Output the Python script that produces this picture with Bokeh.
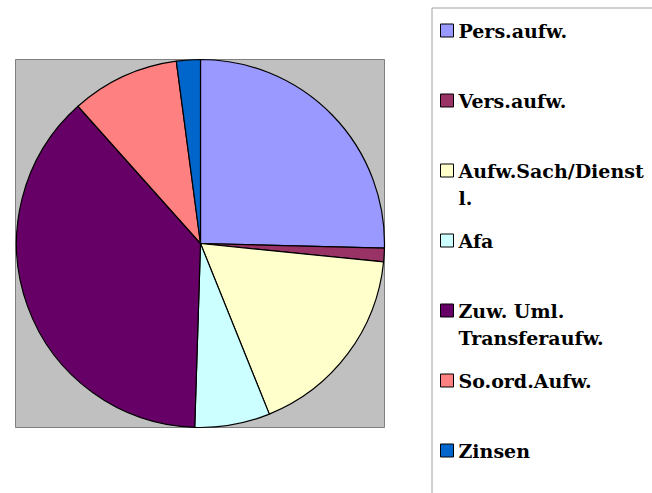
import numpy as np
from bokeh.plotting import figure
from bokeh.models import Range1d, ColumnDataSource
from bokeh.core.properties import value
from bokeh.embed import file_html
from bokeh.resources import INLINE

categories = ["Pers.aufw.", "Vers.aufw.", "Aufw.Sach/Dienst\nl.", "Afa",
              "Zuw. Uml.\nTransferaufw.", "So.ord.Aufw.", "Zinsen"]
shares = [25.4, 1.2, 17.3, 6.6, 37.9, 9.5, 2.1]
colors = ["#9999FF", "#993366", "#FFFFCC", "#CCFFFF", "#660066", "#FF8080", "#0066CC"]

W, H = 652, 493
p = figure(width=W, height=H, x_range=Range1d(0, W), y_range=Range1d(0, H),
           output_backend="svg", toolbar_location=None, min_border=0)
p.axis.visible = False
p.grid.visible = False
p.outline_line_color = None
p.background_fill_color = "white"

# plot area background
p.quad(left=15, right=384, bottom=66, top=434, fill_color="#C0C0C0",
       line_color="#808080", line_width=1)

# pie
cx, cy, r = 200, 250, 184
frac = np.array(shares) / sum(shares)
cum = np.concatenate([[0], np.cumsum(frac)])
src = ColumnDataSource(dict(
    start=np.pi / 2 - 2 * np.pi * cum[:-1],
    end=np.pi / 2 - 2 * np.pi * cum[1:],
    color=colors,
))
p.wedge(x=cx, y=cy, radius=r, start_angle="start", end_angle="end",
        direction="clock", fill_color="color", line_color="black",
        line_width=1.2, source=src)

# legend frame
p.segment(x0=[431.5, 431.5], y0=[485.5, 0], x1=[W, 431.5], y1=[485.5, 485.5],
          line_color="#A0A0A0", line_width=1)

# legend entries
top_y = H - 30
step = 70
line_h = 27
mx, my, tx, ty, tl = [], [], [], [], []
for i, lab in enumerate(categories):
    y0 = top_y - i * step
    mx.append(446.5)
    my.append(y0)
    for k, part in enumerate(lab.split("\n")):
        tx.append(458)
        ty.append(y0 - k * line_h)
        tl.append(part)

p.rect(x=mx, y=my, width=13, height=13, fill_color=colors,
       line_color="black", line_width=1)
p.text(x=tx, y=ty, text=tl, text_font=value("DejaVu Serif"),
       text_font_style="bold", text_font_size="19px",
       text_baseline="middle", text_align="left", text_color="black")

open("out.html", "w").write(file_html(p, INLINE))
